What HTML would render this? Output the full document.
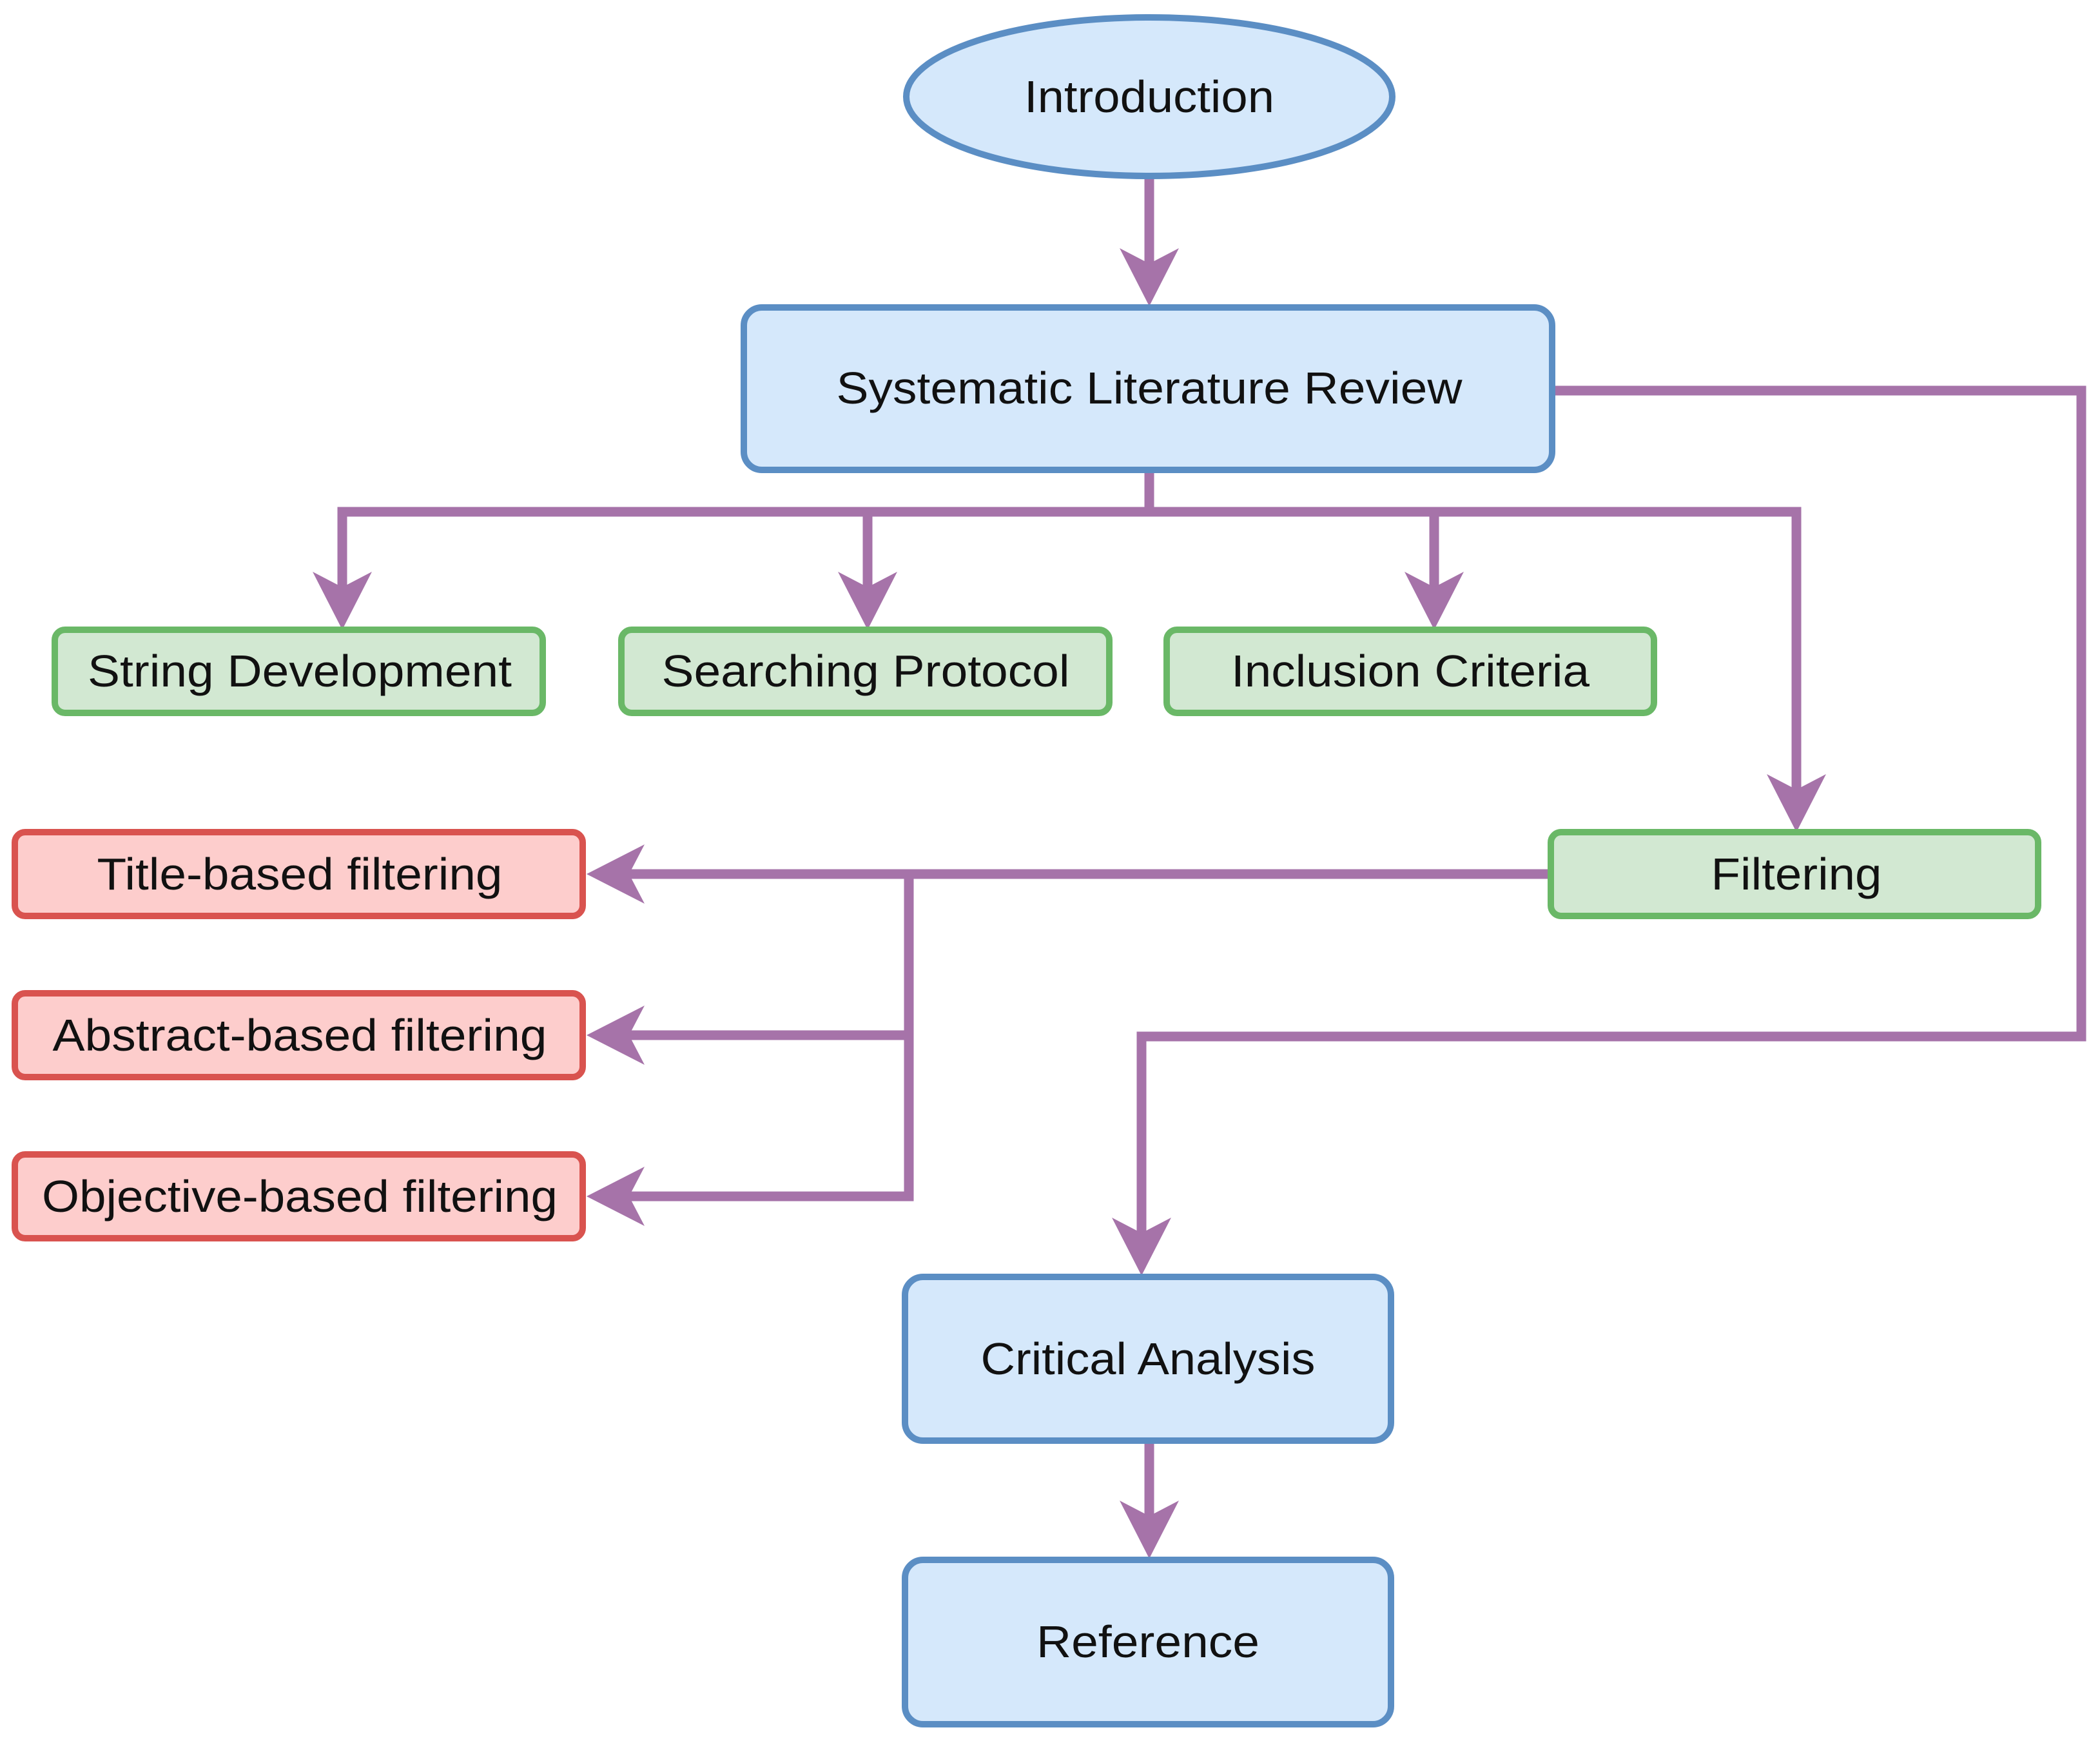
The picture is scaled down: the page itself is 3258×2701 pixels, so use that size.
<!DOCTYPE html>
<html><head><meta charset="utf-8"><style>html,body{margin:0;padding:0;background:#fff}svg{display:block}</style></head>
<body>
<svg width="3258" height="2701" viewBox="0 0 3258 2701" xmlns="http://www.w3.org/2000/svg">
<defs>
<path id="ad" d="M0,0 L-46,-90 L0,-66 L46,-90 Z" fill="#a673a9"/>
</defs>
<g fill="none" stroke="#a673a9" stroke-width="15">
<line x1="1783" y1="275" x2="1783" y2="420"/>
<polyline points="1783,729 1783,794"/>
<polyline points="531,920 531,794 2787,794 2787,1240"/>
<line x1="1346" y1="794" x2="1346" y2="920"/>
<line x1="2225" y1="794" x2="2225" y2="920"/>
<polyline points="2408,606 3229,606 3229,1608 1771,1608 1771,1930"/>
<line x1="2406" y1="1356" x2="960" y2="1356"/>
<polyline points="1410,1356 1410,1856 960,1856"/>
<line x1="1410" y1="1606" x2="960" y2="1606"/>
<line x1="1783" y1="2235" x2="1783" y2="2370"/>
</g>
<use href="#ad" transform="translate(1783,475)"/>
<use href="#ad" transform="translate(531,977)"/>
<use href="#ad" transform="translate(1346,977)"/>
<use href="#ad" transform="translate(2225,977)"/>
<use href="#ad" transform="translate(2787,1291)"/>
<use href="#ad" transform="translate(1771,1979)"/>
<use href="#ad" transform="translate(1783,2418)"/>
<use href="#ad" transform="translate(910,1356) rotate(90)"/>
<use href="#ad" transform="translate(910,1606) rotate(90)"/>
<use href="#ad" transform="translate(910,1856) rotate(90)"/>

<g stroke-width="10">
<ellipse cx="1783" cy="150" rx="377" ry="123" fill="#d5e8fb" stroke="#5b8ec4"/>
<rect x="1154" y="477" width="1254" height="252" rx="28" fill="#d5e8fb" stroke="#5b8ec4"/>
<rect x="1404" y="1981" width="754" height="254" rx="28" fill="#d5e8fb" stroke="#5b8ec4"/>
<rect x="1404" y="2420" width="754" height="255" rx="28" fill="#d5e8fb" stroke="#5b8ec4"/>
<rect x="85" y="977" width="757" height="129" rx="16" fill="#d2e8d2" stroke="#6ab867"/>
<rect x="964" y="977" width="757" height="129" rx="16" fill="#d2e8d2" stroke="#6ab867"/>
<rect x="1810" y="977" width="756" height="129" rx="16" fill="#d2e8d2" stroke="#6ab867"/>
<rect x="2406" y="1291" width="756" height="130" rx="16" fill="#d2e8d2" stroke="#6ab867"/>
<rect x="23" y="1291" width="881" height="130" rx="16" fill="#fdcdcc" stroke="#d9534f"/>
<rect x="23" y="1541" width="881" height="130" rx="16" fill="#fdcdcc" stroke="#d9534f"/>
<rect x="23" y="1791" width="881" height="130" rx="16" fill="#fdcdcc" stroke="#d9534f"/>
</g>
<g font-family="Liberation Sans, Arial, sans-serif" font-size="70" fill="#111" text-anchor="middle">
<text x="1783" y="174" textLength="388" lengthAdjust="spacingAndGlyphs">Introduction</text>
<text x="1783" y="626" textLength="971" lengthAdjust="spacingAndGlyphs">Systematic Literature Review</text>
<text x="465" y="1065" textLength="658" lengthAdjust="spacingAndGlyphs">String Development</text>
<text x="1343" y="1065" textLength="633" lengthAdjust="spacingAndGlyphs">Searching Protocol</text>
<text x="2188" y="1065" textLength="556" lengthAdjust="spacingAndGlyphs">Inclusion Criteria</text>
<text x="2787" y="1380" textLength="265" lengthAdjust="spacingAndGlyphs">Filtering</text>
<text x="465" y="1380" textLength="629" lengthAdjust="spacingAndGlyphs">Title-based filtering</text>
<text x="465" y="1630" textLength="767" lengthAdjust="spacingAndGlyphs">Abstract-based filtering</text>
<text x="465" y="1880" textLength="800" lengthAdjust="spacingAndGlyphs">Objective-based filtering</text>
<text x="1781" y="2132" textLength="519" lengthAdjust="spacingAndGlyphs">Critical Analysis</text>
<text x="1781" y="2571" textLength="346" lengthAdjust="spacingAndGlyphs">Reference</text>
</g>
</svg>
</body></html>
